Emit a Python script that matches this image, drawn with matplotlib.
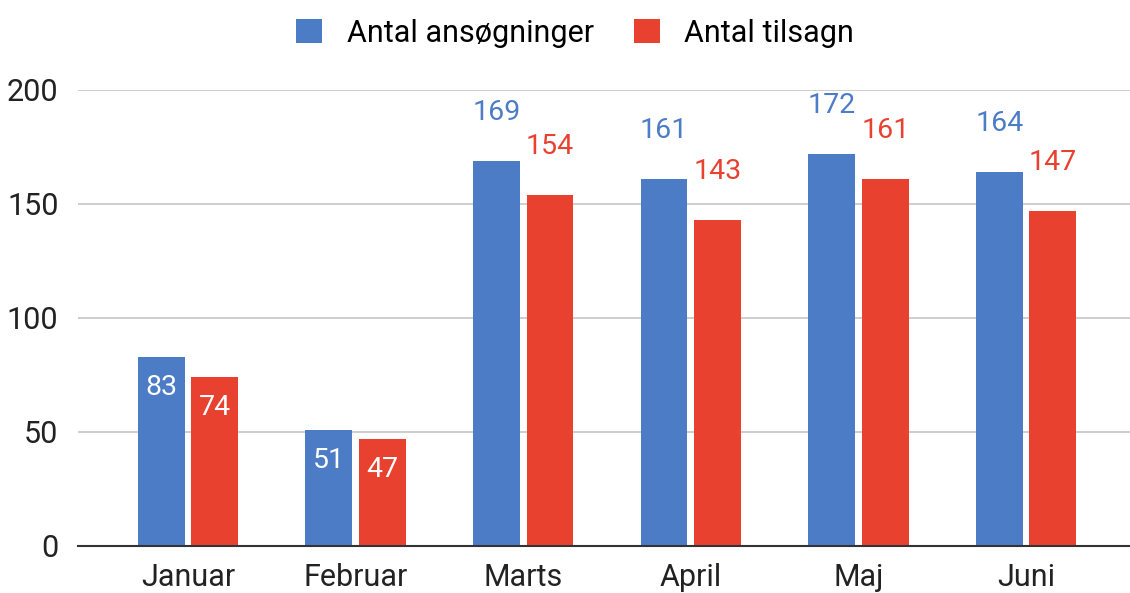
import matplotlib.pyplot as plt
import numpy as np

months = ["Januar", "Februar", "Marts", "April", "Maj", "Juni"]
ansoegninger = [83, 51, 169, 161, 172, 164]
tilsagn = [74, 47, 154, 143, 161, 147]
inside = [True, True, False, False, False, False]

blue = "#4d7cc6"
red = "#e8412f"

plt.rcParams['font.family'] = ['Roboto', 'DejaVu Sans']

fig = plt.figure(figsize=(11.3, 5.93), dpi=100)
ax = fig.add_axes([0.069, 0.0793, 0.931, 0.769])

x = np.arange(len(months))
w = 0.28
off = 0.16

b1 = ax.bar(x - off, ansoegninger, width=w, color=blue, label="Antal ansøgninger", zorder=3)
b2 = ax.bar(x + off, tilsagn, width=w, color=red, label="Antal tilsagn", zorder=3)

for bars, vals, col in [(b1, ansoegninger, blue), (b2, tilsagn, red)]:
    for rect, v, ins in zip(bars, vals, inside):
        cx = rect.get_x() + rect.get_width() / 2
        if ins:
            ax.annotate(str(v), (cx, v), xytext=(0, -22), textcoords="offset points",
                        ha="center", va="center", color="white", fontsize=20.5, zorder=4)
        else:
            ax.annotate(str(v), (cx, v), xytext=(0, 35), textcoords="offset points",
                        ha="center", va="center", color=col, fontsize=20.5, zorder=4)

ax.set_ylim(0, 200)
ax.set_xlim(-0.656, 5.62)
ax.set_yticks([0, 50, 100, 150, 200])
ax.set_xticks(x, months)
ax.yaxis.grid(True, color="#c9c9c9", linewidth=1.3, zorder=0)
ax.tick_params(axis="both", length=0, labelsize=22, labelcolor="#222222")
ax.tick_params(axis="y", pad=14)
ax.tick_params(axis="x", pad=12)
for s in ["top", "right", "left"]:
    ax.spines[s].set_visible(False)
ax.spines["bottom"].set_color("#333333")
ax.spines["bottom"].set_linewidth(1.5)
ax.spines["bottom"].set_zorder(5)

fig.legend(loc="upper center", bbox_to_anchor=(0.509, 1.015), ncol=2, frameon=False,
           fontsize=22, handlelength=0.85, handleheight=0.85, columnspacing=1.3,
           handletextpad=0.8)

fig.savefig("out.png", dpi=100)
